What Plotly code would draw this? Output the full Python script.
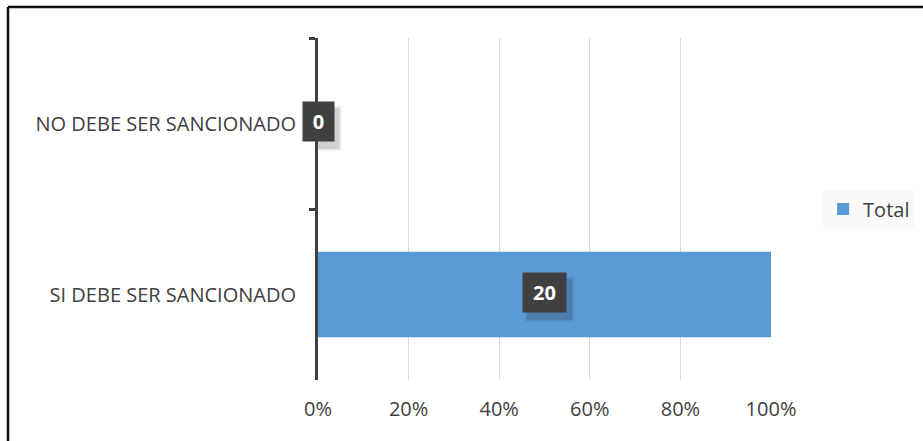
import plotly.graph_objects as go

# Survey responses: count per answer
categories = ["NO DEBE SER SANCIONADO", "SI DEBE SER SANCIONADO"]
counts = [0, 20]
series_name = "Total"
x_ticks = [0, 20, 40, 60, 80, 100]

# 100% stacked with a single series: each row is its own total
percents = [100.0 * c / c if c else 0.0 for c in counts]

BAR_COLOR = "#5B9BD5"
DARK = "#404040"
FONT = "Open Sans"
PAD = 7

fig = go.Figure()
fig.add_trace(go.Bar(
    y=categories,
    x=percents,
    orientation="h",
    name=series_name,
    marker=dict(color=BAR_COLOR, line=dict(width=0)),
    width=0.5,
    showlegend=True,
    hoverinfo="skip",
))

# Data labels: dark boxes with white bold counts, with a soft drop shadow
for cat, cnt, pct in zip(categories, counts, percents):
    xpos = pct / 2
    text_w = 5 + 12 * len(str(cnt))
    box_w = text_w + 2 * PAD
    for spread, alpha in ((3, 0.07), (1, 0.12)):
        fig.add_shape(
            type="rect", xref="x", yref="y", xsizemode="pixel", ysizemode="pixel",
            xanchor=xpos, yanchor=cat,
            x0=-box_w / 2 + 5 - spread, x1=box_w / 2 + 5 + spread,
            y0=-19.5 - 5 - spread, y1=19.5 - 5 + spread,
            fillcolor=f"rgba(0,0,0,{alpha})", line=dict(width=0), layer="above",
        )
    fig.add_annotation(
        x=xpos, y=cat, xref="x", yref="y", text=f"<b>{cnt}</b>",
        showarrow=False, font=dict(family=FONT, size=20, color="white"),
        bgcolor=DARK, borderpad=PAD, width=text_w, height=25, yshift=2,
    )

# Outer frame (top and left edges visible)
fig.add_shape(type="line", xref="paper", yref="paper",
              x0=-310 / 453, x1=620 / 453, y0=(380 - 7) / 342, y1=(380 - 7) / 342,
              line=dict(color="#111111", width=2.5))
fig.add_shape(type="line", xref="paper", yref="paper",
              x0=-310 / 453, x1=-310 / 453, y0=(380 - 7) / 342, y1=-70 / 342,
              line=dict(color="#111111", width=2.5))

fig.update_layout(
    width=923, height=441,
    margin=dict(l=318, r=152, t=38, b=61, autoexpand=False),
    paper_bgcolor="white", plot_bgcolor="white",
    font=dict(family=FONT, size=19, color=DARK),
    bargap=0.5,
    legend=dict(x=1.115, y=0.5, xanchor="left", yanchor="middle",
                font=dict(family=FONT, size=20, color=DARK),
                bgcolor="#fafafa", itemwidth=30, tracegroupgap=0),
)
fig.update_xaxes(
    range=[0, 100], tickvals=x_ticks, ticktext=[f"{v}%" for v in x_ticks],
    showgrid=True, gridcolor="#d9d9d9", gridwidth=1.3,
    zeroline=False, showline=False, ticks="",
    tickfont=dict(family=FONT, size=20, color=DARK),
    ticklabelstandoff=15, fixedrange=True,
)
fig.update_yaxes(
    categoryorder="array", categoryarray=categories, autorange="reversed",
    showline=True, linecolor=DARK, linewidth=3,
    ticks="outside", tickson="boundaries", ticklen=6, tickwidth=3, tickcolor=DARK,
    showgrid=False, zeroline=False,
    tickfont=dict(family=FONT, size=20, color=DARK),
    ticklabelstandoff=15, fixedrange=True,
)

fig.write_html("out.html")
